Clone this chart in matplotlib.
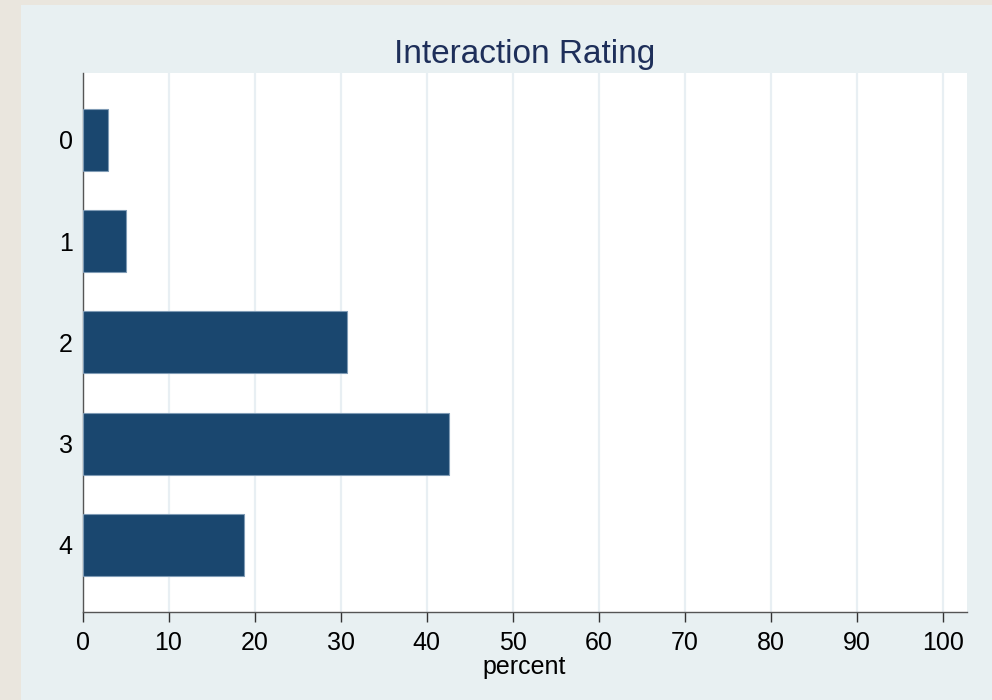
import matplotlib.pyplot as plt
from matplotlib.patches import Rectangle

categories = ["0", "1", "2", "3", "4"]
percent = [3.0, 5.0, 30.8, 42.6, 18.8]
xticks = [0, 10, 20, 30, 40, 50, 60, 70, 80, 90, 100]

plt.rcParams['font.family'] = ['Liberation Sans', 'DejaVu Sans']

fig = plt.figure(figsize=(9.92, 7), dpi=100, facecolor="#eae6de")
# light inner panel (graph region)
fig.patches.append(Rectangle((21 / 992, 0), 1, 1 - 5 / 700, transform=fig.transFigure,
                             facecolor="#e8f0f2", edgecolor="none", zorder=-10))

ax = fig.add_axes([0.0832, 0.1261, 0.8913, 0.7696])
ax.set_facecolor("white")

ypos = list(range(len(categories)))
ax.barh(ypos, percent, height=0.61, color="#1a476f", edgecolor="#7f9bb5",
        linewidth=0.8, zorder=3)

ax.set_ylim(4.66, -0.66)
ax.set_xlim(0, 102.8)
ax.set_yticks(ypos)
ax.set_yticklabels(categories)
ax.set_xticks(xticks)

ax.grid(axis="x", color="#e8eff3", linewidth=1.6, zorder=0)
ax.set_axisbelow(True)

for s in ["top", "right"]:
    ax.spines[s].set_visible(False)
for s in ["left", "bottom"]:
    ax.spines[s].set_color("#555555")
    ax.spines[s].set_linewidth(1.0)

ax.tick_params(axis="x", length=7, width=1, color="#333333", pad=7,
               labelsize=18)
ax.tick_params(axis="y", length=0, pad=7, labelsize=18)

ax.set_xlabel("percent", fontsize=18, labelpad=0)
ax.text(0.5, 1.019, "Interaction Rating", transform=ax.transAxes,
        ha="center", va="baseline", fontsize=24, color="#1e2f5a")

fig.savefig("out.png", dpi=100, facecolor=fig.get_facecolor())
